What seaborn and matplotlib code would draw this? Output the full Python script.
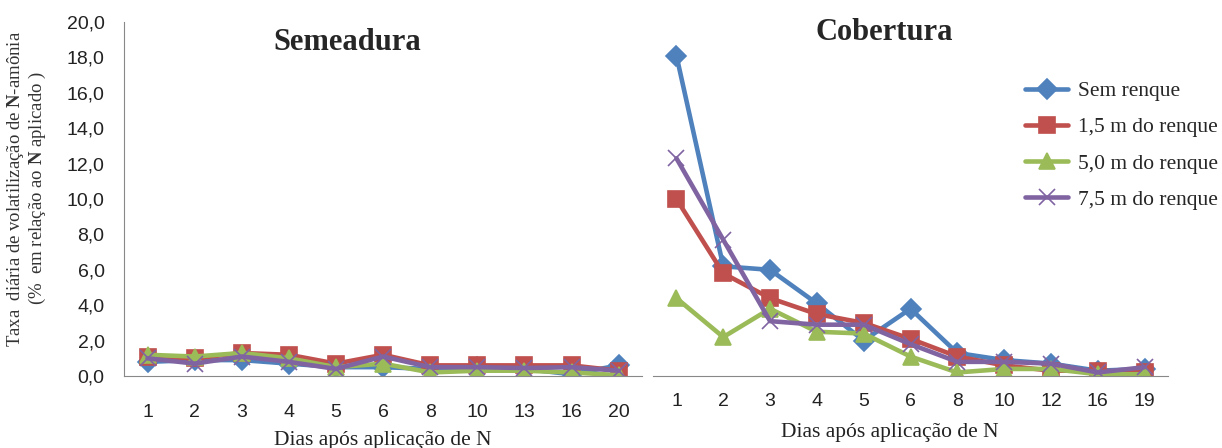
import pandas as pd
import seaborn as sns
import numpy as np
import matplotlib.pyplot as plt

sns.set_style('white')
plt.rcParams['mathtext.fontset'] = 'custom'
plt.rcParams['mathtext.rm'] = 'Liberation Serif'
plt.rcParams['mathtext.bf'] = 'Liberation Serif:bold'

# data
dias_sem = ['1', '2', '3', '4', '5', '6', '8', '10', '13', '16', '20']
dias_cob = ['1', '2', '3', '4', '5', '6', '8', '10', '12', '16', '19']
series = ['Sem renque', '1,5 m do renque', '5,0 m do renque', '7,5 m do renque']

sem_sem_renque = [0.8, 0.9, 0.9, 0.7, 0.5, 0.5, 0.4, 0.5, 0.4, 0.1, 0.6]
sem_15 = [1.1, 1.0, 1.3, 1.2, 0.7, 1.2, 0.6, 0.6, 0.6, 0.6, 0.3]
sem_50 = [1.2, 1.1, 1.3, 1.0, 0.5, 0.7, 0.2, 0.3, 0.3, 0.2, 0.05]
sem_75 = [1.0, 0.7, 1.1, 0.8, 0.4, 1.1, 0.5, 0.5, 0.45, 0.5, 0.3]

cob_sem_renque = [18.1, 6.2, 6.0, 4.1, 2.0, 3.8, 1.3, 0.9, 0.7, 0.3, 0.4]
cob_15 = [10.0, 5.8, 4.4, 3.5, 3.0, 2.1, 1.1, 0.6, 0.3, 0.3, 0.2]
cob_50 = [4.4, 2.2, 3.8, 2.5, 2.4, 1.1, 0.2, 0.4, 0.4, 0.1, 0.1]
cob_75 = [12.3, 7.7, 3.1, 2.9, 2.9, 1.8, 0.8, 0.8, 0.7, 0.2, 0.5]

cores = ['#4F81BD', '#C0504D', '#9BBB59', '#8064A2']
marcadores = ['D', 's', '^', 'x']
tamanhos = [10, 12, 11, 12]


def montar(dias, valores):
    linhas = []
    for nome, v in zip(series, valores):
        for d, y in zip(dias, v):
            linhas.append({'dia': d, 'taxa': y, 'serie': nome})
    return pd.DataFrame(linhas)


df_sem = montar(dias_sem, [sem_sem_renque, sem_15, sem_50, sem_75])
df_cob = montar(dias_cob, [cob_sem_renque, cob_15, cob_50, cob_75])

fig = plt.figure(figsize=(12.22, 4.48), dpi=100)
ax1 = fig.add_axes([0.1015, 0.1607, 0.424, 0.790])
ax2 = fig.add_axes([0.5344, 0.1607, 0.4214, 0.790])

for ax, df, dias in [(ax1, df_sem, dias_sem), (ax2, df_cob, dias_cob)]:
    for i, nome in enumerate(series):
        sub = df[df.serie == nome]
        sns.lineplot(x=np.arange(len(dias)), y=sub.taxa.values, ax=ax, color=cores[i],
                     marker=marcadores[i], markersize=tamanhos[i], linewidth=3.3,
                     markeredgecolor=cores[i], markeredgewidth=1.2,
                     label=nome)
    ax.set_xlim(-0.5, len(dias) - 0.5)
    ax.set_ylim(0, 20)
    ax.set_xticks(np.arange(len(dias)))
    ax.set_xticklabels(dias, fontsize=14, family='Liberation Sans', color='#222222')
    ax.set_xticks(np.arange(-0.5, len(dias)), minor=True)
    ax.tick_params(axis='x', which='minor', length=6, width=0.8, color='#888888', direction='out')
    for s in ['top', 'right']:
        ax.spines[s].set_visible(False)
    ax.spines['bottom'].set_color('#888888')
    ax.spines['bottom'].set_linewidth(0.8)
    ax.set_xlabel('Dias após aplicação de N', family='Liberation Serif', fontsize=15.5, color='#222222')
    if ax.get_legend():
        ax.get_legend().remove()

ax1.tick_params(axis='x', which='major', length=0, pad=20)
ax2.tick_params(axis='x', which='major', length=0, pad=12)

ax1.set_yticks(np.arange(0, 21, 2))
ax1.set_yticklabels([f'{v:.1f}'.replace('.', ',') for v in np.arange(0, 21, 2)],
                    fontsize=14, family='Liberation Sans', color='#222222')
ax1.tick_params(axis='y', length=6, width=0.8, color='#888888', direction='out', pad=8)
ax1.spines['left'].set_color('#888888')
ax1.spines['left'].set_linewidth(0.8)
ax1.set_ylabel('Taxa  diária de volatilização de $\\mathbf{N}$-amônia\n(%  em relação ao $\\mathbf{N}$ aplicado )',
               family='Liberation Serif', fontsize=13.5, color='#333333', linespacing=1.05)
ax1.yaxis.set_label_coords(-0.147, 0.53)
ax1.xaxis.set_label_coords(0.5, -0.155)

ax2.spines['left'].set_visible(False)
ax2.set_yticks([])
ax2.set_ylabel('')
ax2.xaxis.set_label_coords(0.46, -0.132)

fig.text(0.284, 0.905, 'Semeadura', family='Liberation Serif', weight='bold', fontsize=22, ha='center', va='center')
fig.text(0.724, 0.928, 'Cobertura', family='Liberation Serif', weight='bold', fontsize=22, ha='center', va='center')

handles, labels = ax2.get_legend_handles_labels()
fig.legend(handles, labels, loc='upper left', bbox_to_anchor=(0.823, 0.862), frameon=False,
           prop={'family': 'Liberation Serif', 'size': 15.5}, handlelength=2.0,
           labelspacing=0.75, handletextpad=0.45)

fig.savefig('out.png', dpi=100)
